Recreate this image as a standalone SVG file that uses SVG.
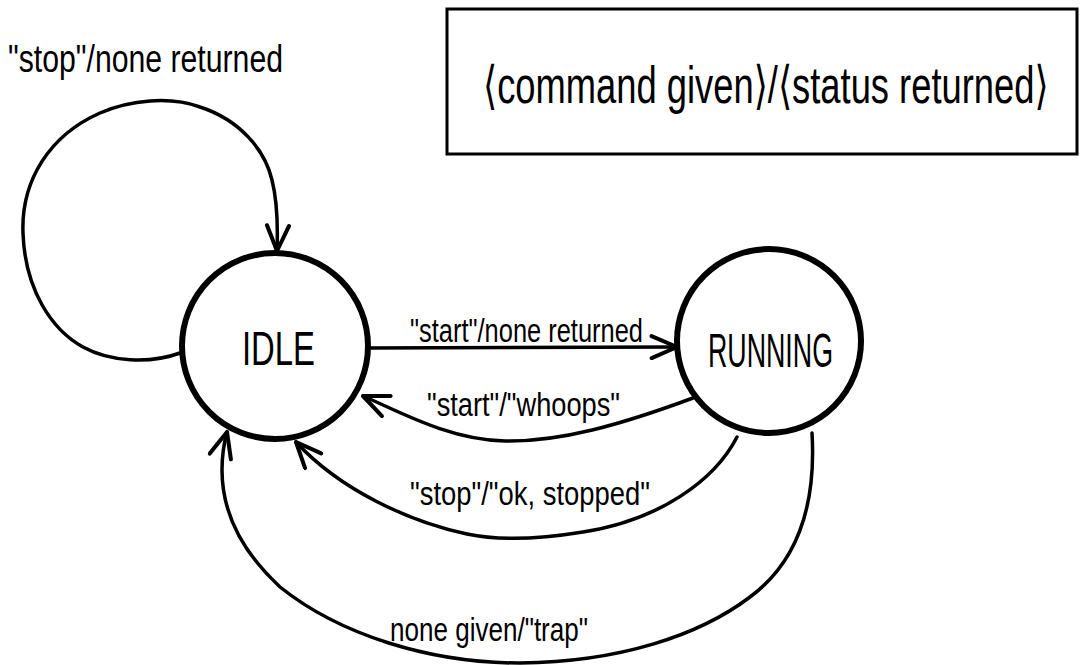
<svg xmlns="http://www.w3.org/2000/svg" width="1080" height="665" viewBox="0 0 1080 665">
<style>
.state{fill:none;stroke:#000;stroke-width:6}
.edge{fill:none;stroke:#000;stroke-width:3.5;stroke-linecap:round;stroke-linejoin:round}
.lbl{font-family:"Liberation Sans","DejaVu Sans",sans-serif;fill:#000}
.name{font-family:"Liberation Sans","DejaVu Sans",sans-serif;fill:#000;font-size:49px}
</style>
<defs>
<marker id="arr" markerUnits="userSpaceOnUse" markerWidth="30" markerHeight="26" viewBox="0 0 26 22" refX="24" refY="11" orient="auto">
<path d="M2,1.5 L24,11 L2,20.5" fill="none" stroke="#000" stroke-width="3.5" stroke-linecap="round" stroke-linejoin="round"/>
</marker>
</defs>
<rect width="1080" height="665" fill="#fff"/>

<g id="legend">
<rect x="447" y="9" width="630" height="145" fill="none" stroke="#000" stroke-width="3"/>
<text class="lbl" transform="matrix(0.7 0 0 1 483 103)" x="0" y="0" font-size="52" textLength="808" lengthAdjust="spacingAndGlyphs">⟨command given⟩/⟨status returned⟩</text>
</g>

<g id="node-idle">
<circle class="state" cx="275" cy="346" r="93"/>
<text class="name" x="242" y="365" textLength="73" lengthAdjust="spacingAndGlyphs">IDLE</text>
</g>

<g id="node-running">
<circle class="state" cx="769" cy="341" r="92"/>
<text class="name" x="708" y="367" textLength="125" lengthAdjust="spacingAndGlyphs">RUNNING</text>
</g>

<g id="connectors">
<path id="e-idle-idle" class="edge" marker-end="url(#arr)" d="M180,353 C150,364 110,362 83,347 C52,330 25,290 23,233 C21,180 50,135 100,113 C130,100 170,96 200,107 C240,120 265,150 272,180 C277,200 278,225 277,251"/>
<path id="e-idle-running" class="edge" marker-end="url(#arr)" d="M368,348 L677,347"/>
<path id="e-running-idle-whoops" class="edge" marker-end="url(#arr)" d="M693,398 C620,425 560,442 505,441 C450,440 400,412 363,396"/>
<path id="e-running-idle-stop" class="edge" marker-end="url(#arr)" d="M737,437 C715,480 660,520 583,532 C540,539 500,541 467,534 C410,522 340,490 296,442"/>
<path id="e-running-idle-trap" class="edge" marker-end="url(#arr)" d="M812,433 C816,500 800,560 750,597 C700,635 620,662 520,663 C430,663 340,635 280,587 C240,550 222,510 222,470 C222,455 224,443 227,432"/>
</g>

<g id="edge-labels">
<text class="lbl" x="8" y="72" font-size="38" textLength="275" lengthAdjust="spacingAndGlyphs">"stop"/none returned</text>
<text class="lbl" x="410" y="342" font-size="33" textLength="233" lengthAdjust="spacingAndGlyphs">"start"/none returned</text>
<text class="lbl" x="427" y="416" font-size="33" textLength="193" lengthAdjust="spacingAndGlyphs">"start"/"whoops"</text>
<text class="lbl" x="410" y="505" font-size="33" textLength="240" lengthAdjust="spacingAndGlyphs">"stop"/"ok, stopped"</text>
<text class="lbl" x="390" y="641" font-size="33" textLength="198" lengthAdjust="spacingAndGlyphs">none given/"trap"</text>
</g>
</svg>
